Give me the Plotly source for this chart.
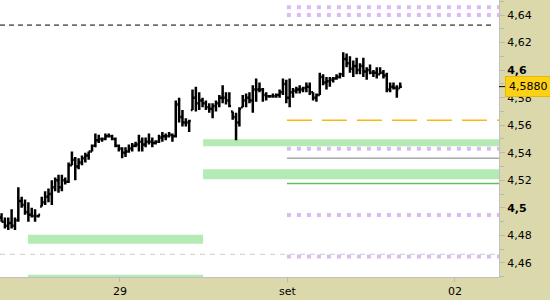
import numpy as np
import plotly.graph_objects as go

# ---- data ----
high = [4.496,4.493,4.493,4.499,4.493,4.515,4.508,4.506,4.504,4.500,
        4.499,4.495,4.508,4.512,4.514,4.520,4.522,4.524,4.524,4.522,
        4.533,4.541,4.537,4.536,4.538,4.540,4.541,4.546,4.554,4.553,
        4.551,4.554,4.554,4.553,4.551,4.546,4.544,4.544,4.546,4.547,
        4.548,4.553,4.551,4.551,4.554,4.551,4.549,4.553,4.555,4.554,
        4.555,4.554,4.578,4.580,4.571,4.565,4.564,4.586,4.588,4.584,
        4.580,4.578,4.576,4.576,4.578,4.582,4.589,4.584,4.584,4.570,
        4.569,4.573,4.582,4.583,4.584,4.589,4.594,4.591,4.587,4.584,
        4.582,4.583,4.583,4.586,4.594,4.593,4.594,4.587,4.588,4.589,
        4.588,4.591,4.591,4.584,4.583,4.598,4.597,4.595,4.595,4.595,
        4.597,4.598,4.613,4.612,4.610,4.607,4.609,4.605,4.609,4.602,
        4.604,4.600,4.602,4.602,4.600,4.598,4.591,4.591,4.589,4.591]
low = [4.490,4.485,4.484,4.485,4.484,4.490,4.500,4.495,4.490,4.493,
       4.490,4.493,4.501,4.502,4.504,4.502,4.512,4.511,4.512,4.517,
       4.518,4.531,4.520,4.528,4.531,4.533,4.535,4.541,4.544,4.547,
       4.548,4.549,4.551,4.549,4.544,4.541,4.536,4.537,4.540,4.541,
       4.544,4.541,4.541,4.544,4.546,4.544,4.546,4.547,4.548,4.549,
       4.551,4.548,4.551,4.562,4.559,4.559,4.555,4.571,4.570,4.571,
       4.573,4.571,4.569,4.565,4.570,4.573,4.576,4.575,4.573,4.564,
       4.549,4.559,4.573,4.573,4.576,4.569,4.577,4.584,4.577,4.578,
       4.580,4.580,4.580,4.580,4.582,4.576,4.573,4.580,4.583,4.583,
       4.584,4.584,4.582,4.578,4.577,4.582,4.589,4.586,4.588,4.591,
       4.593,4.594,4.595,4.602,4.598,4.595,4.597,4.597,4.595,4.593,
       4.597,4.595,4.594,4.597,4.594,4.584,4.584,4.586,4.580,4.587]
open_ = [4.493,4.490,4.487,4.489,4.487,4.491,4.505,4.502,4.497,4.495,
         4.494,4.494,4.501,4.504,4.508,4.510,4.515,4.520,4.515,4.520,
         4.519,4.531,4.535,4.530,4.533,4.536,4.538,4.541,4.545,4.549,
         4.550,4.550,4.552,4.552,4.550,4.545,4.543,4.540,4.541,4.543,
         4.545,4.546,4.548,4.546,4.548,4.548,4.547,4.548,4.551,4.552,
         4.552,4.553,4.552,4.575,4.566,4.562,4.562,4.571,4.580,4.576,
         4.578,4.576,4.573,4.572,4.574,4.576,4.580,4.580,4.578,4.570,
         4.566,4.562,4.573,4.578,4.580,4.578,4.586,4.586,4.586,4.582,
         4.581,4.581,4.581,4.582,4.584,4.590,4.580,4.584,4.585,4.586,
         4.586,4.587,4.588,4.584,4.580,4.582,4.595,4.591,4.592,4.593,
         4.594,4.595,4.597,4.608,4.605,4.601,4.603,4.600,4.603,4.599,
         4.600,4.598,4.598,4.597,4.598,4.596,4.586,4.588,4.587,4.587]
close = [4.490,4.487,4.489,4.487,4.491,4.505,4.502,4.497,4.495,4.494,
         4.494,4.495,4.504,4.508,4.510,4.515,4.520,4.515,4.520,4.519,
         4.531,4.535,4.530,4.533,4.536,4.538,4.541,4.545,4.549,4.550,
         4.550,4.552,4.552,4.550,4.545,4.543,4.540,4.541,4.543,4.545,
         4.546,4.548,4.546,4.548,4.548,4.547,4.548,4.551,4.552,4.552,
         4.553,4.552,4.575,4.566,4.562,4.562,4.563,4.580,4.576,4.578,
         4.576,4.573,4.572,4.574,4.576,4.580,4.580,4.578,4.574,4.566,
         4.562,4.572,4.578,4.580,4.578,4.586,4.586,4.586,4.582,4.581,
         4.581,4.581,4.582,4.584,4.590,4.580,4.584,4.585,4.586,4.586,
         4.587,4.588,4.584,4.580,4.582,4.595,4.591,4.592,4.593,4.594,
         4.595,4.597,4.608,4.605,4.601,4.603,4.600,4.603,4.599,4.600,
         4.598,4.598,4.597,4.598,4.596,4.586,4.588,4.587,4.586,4.588]

last_price = 4.588
last_label = "4,5880"

x_tickvals = [1, 2, 3]
x_ticktext = ["29", "set", "02"]
y_tickvals = [4.46, 4.48, 4.50, 4.52, 4.54, 4.56, 4.58, 4.60, 4.62, 4.64]
y_ticktext = ["4,46", "4,48", "<b>4,5</b>", "4,52", "4,54", "4,56",
              "4,58", "<b>4,6</b>", "4,62", "4,64"]

# levels
lev_black_dash = 4.6327
lev_lav = [4.6456, 4.6400, 4.5429, 4.4949, 4.4646]
lev_orange = 4.5636
lev_gray = 4.5361
lev_green_line = 4.5176
lev_gray_dash = 4.4663
bands_right = [(4.5448, 4.5498), (4.5208, 4.5280)]
bands_left = [(4.4740, 4.4804), (4.4498, 4.4514)]

# ---- positions ----
x_start, x_step = 0.293, 0.02
xs = x_start + x_step * np.arange(len(close))
X0, X1 = 0.2836, 3.263
Y0, Y1 = 4.4498, 4.6509

fig = go.Figure()
fig.add_trace(go.Ohlc(
    x=xs, open=open_, high=high, low=low, close=close,
    increasing=dict(line=dict(color="black", width=2.5)),
    decreasing=dict(line=dict(color="black", width=2.5)),
    tickwidth=0.5, hoverinfo="skip", showlegend=False))

shapes = []
GREEN = "#b4ebb4"
LAV = "#dbbcf0"
xr_split = 0.407   # paper x where right bands start
xr_lines = 0.575   # paper x where right lines start
for (a, b) in bands_right:
    shapes.append(dict(type="rect", xref="paper", yref="y", x0=xr_split, x1=1,
                       y0=a, y1=b, fillcolor=GREEN, line=dict(width=0), layer="below"))
for (a, b) in bands_left:
    shapes.append(dict(type="rect", xref="paper", yref="y", x0=0.056, x1=xr_split,
                       y0=a, y1=b, fillcolor=GREEN, line=dict(width=0), layer="below"))
for v in lev_lav:
    shapes.append(dict(type="line", xref="paper", yref="y", x0=xr_lines, x1=1,
                       y0=v, y1=v, line=dict(color=LAV, width=4, dash="4px,6px"),
                       layer="below"))
shapes.append(dict(type="line", xref="paper", yref="y", x0=0, x1=0.992,
                   y0=lev_black_dash, y1=lev_black_dash,
                   line=dict(color="black", width=1, dash="5px,4px"), layer="below"))
shapes.append(dict(type="line", xref="paper", yref="y", x0=xr_lines, x1=1,
                   y0=lev_orange, y1=lev_orange,
                   line=dict(color="#f7b90f", width=1.5, dash="25px,10px"), layer="below"))
shapes.append(dict(type="line", xref="paper", yref="y", x0=xr_lines, x1=1,
                   y0=lev_gray, y1=lev_gray,
                   line=dict(color="#a8a8a8", width=1.5), layer="below"))
shapes.append(dict(type="line", xref="paper", yref="y", x0=xr_lines, x1=1,
                   y0=lev_green_line, y1=lev_green_line,
                   line=dict(color="#66bb66", width=1.5), layer="below"))
shapes.append(dict(type="line", xref="paper", yref="y", x0=0, x1=1,
                   y0=lev_gray_dash, y1=lev_gray_dash,
                   line=dict(color="#cccccc", width=1, dash="5px,5px"), layer="below"))
# last price marker tick on axis
shapes.append(dict(type="line", xref="paper", yref="y", x0=1.0, x1=1.012,
                   y0=last_price, y1=last_price, line=dict(color="black", width=1)))

fig.update_layout(
    width=550, height=300,
    margin=dict(l=0, r=51, t=0, b=23),
    paper_bgcolor="#dbd9ab", plot_bgcolor="white",
    font=dict(family="DejaVu Sans, Verdana, sans-serif", size=11, color="black"),
    shapes=shapes,
    showlegend=False,
    annotations=[dict(xref="paper", yref="y", x=1, y=last_price, xanchor="left",
                      xshift=6, text=last_label, showarrow=False,
                      bgcolor="#fcd116", bordercolor="#e8b800", borderwidth=1,
                      borderpad=3, font=dict(size=11, color="black"))],
)
fig.update_xaxes(range=[X0, X1], tickvals=x_tickvals, ticktext=x_ticktext,
                 ticks="outside", ticklen=4, tickcolor="#b8b8b8",
                 showline=True, linecolor="#c0c0c0", linewidth=1,
                 showgrid=False, zeroline=False, rangeslider=dict(visible=False),
                 fixedrange=True)
fig.update_yaxes(range=[Y0, Y1], side="right", tickvals=y_tickvals, ticktext=y_ticktext,
                 ticks="outside", ticklen=5, tickcolor="#b8b8b8",
                 minor=dict(dtick=0.01, tick0=4.46, ticks="outside", ticklen=4,
                            tickcolor="#b8b8b8", showgrid=False),
                 showline=True, linecolor="#c0c0c0", linewidth=1,
                 showgrid=False, zeroline=False, fixedrange=True)

fig.write_html("out.html", config={"displayModeBar": False})
